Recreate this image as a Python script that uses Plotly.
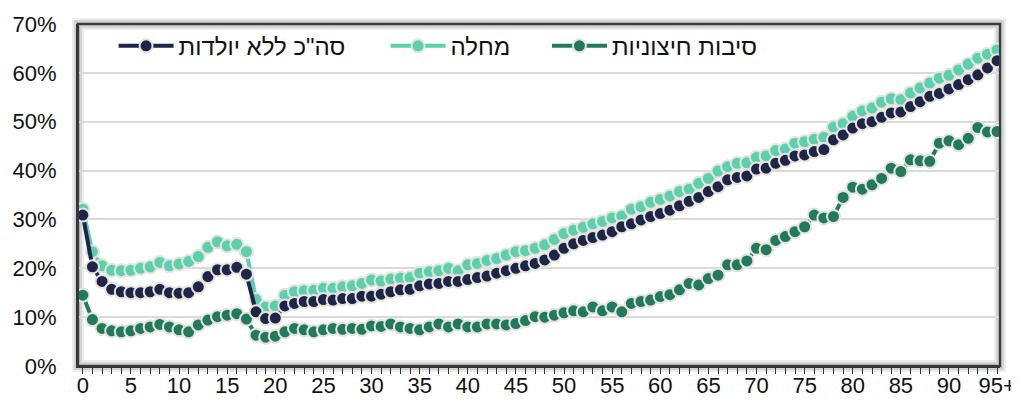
import plotly.graph_objects as go

ages = list(range(96))
tick_vals = list(range(0, 96, 5))
tick_text = [str(v) for v in range(0, 95, 5)] + ["95+"]

names = ['סה"כ ללא יולדות', "מחלה", "סיבות חיצוניות"]

total = [30.9, 20.3, 17.3, 15.7, 15.2, 15.0, 15.0, 15.2, 15.7, 15.0,
         14.9, 15.0, 16.2, 18.3, 19.7, 19.7, 20.2, 18.8, 11.1, 9.7,
         9.8, 12.3, 12.8, 13.2, 13.2, 13.6, 13.5, 13.8, 13.8, 14.3,
         14.3, 14.7, 15.2, 15.6, 15.7, 16.4, 16.8, 16.9, 17.3, 17.3,
         17.7, 18.1, 18.4, 19.0, 19.5, 20.0, 20.5, 21.0, 21.7, 22.7,
         24.1, 25.0, 25.7, 26.3, 26.8, 27.5, 28.5, 29.1, 29.9, 30.6,
         31.2, 31.9, 32.8, 33.7, 34.5, 35.7, 36.7, 38.1, 38.6, 38.9,
         40.3, 40.5, 41.5, 42.1, 43.0, 43.2, 43.9, 44.3, 46.3, 47.3,
         48.7, 49.6, 50.0, 50.9, 51.8, 52.0, 53.1, 54.1, 55.2, 55.8,
         56.7, 57.6, 58.6, 59.6, 61.0, 62.5]

illness = [32.1, 23.4, 20.5, 19.6, 19.5, 19.6, 20.0, 20.3, 21.2, 20.5,
           20.9, 21.4, 22.4, 24.3, 25.4, 24.6, 24.9, 23.4, 13.6, 12.1,
           12.3, 14.5, 15.2, 15.4, 15.5, 15.9, 15.9, 16.2, 16.4, 16.9,
           17.6, 17.4, 17.8, 18.0, 18.1, 19.0, 19.3, 19.5, 20.0, 19.5,
           20.7, 21.0, 21.6, 22.0, 22.7, 23.4, 23.6, 24.1, 24.8, 25.9,
           27.1, 27.8, 28.4, 29.1, 29.6, 30.3, 30.7, 32.1, 32.6, 33.5,
           34.1, 34.8, 35.7, 36.2, 37.4, 38.4, 39.9, 40.8, 41.5, 41.6,
           42.7, 43.0, 44.1, 44.4, 45.6, 45.9, 46.4, 46.8, 48.9, 49.6,
           51.1, 52.2, 52.8, 54.0, 54.7, 54.5, 55.9, 56.9, 57.9, 58.9,
           59.5, 60.6, 61.8, 63.0, 63.8, 64.7]

external = [14.5, 9.5, 7.7, 7.2, 7.0, 7.2, 7.7, 8.0, 8.5, 8.0,
            7.4, 7.0, 8.4, 9.4, 10.1, 10.4, 10.7, 9.6, 6.3, 5.9,
            6.1, 7.0, 7.7, 7.4, 7.0, 7.4, 7.7, 7.5, 7.7, 7.5,
            8.2, 8.1, 8.6, 8.0, 7.7, 7.4, 8.0, 8.6, 8.0, 8.6,
            8.0, 8.0, 8.6, 8.6, 8.4, 8.7, 9.3, 10.1, 10.0, 10.4,
            10.9, 11.3, 11.1, 12.1, 11.3, 12.1, 11.1, 12.8, 13.2, 13.5,
            14.2, 14.6, 15.6, 16.9, 16.6, 17.9, 18.6, 20.7, 20.7, 21.5,
            24.1, 23.8, 25.7, 26.5, 27.5, 28.5, 30.9, 30.3, 30.6, 34.5,
            36.6, 36.2, 37.1, 38.4, 40.5, 39.8, 42.2, 42.0, 41.9, 45.6,
            46.1, 45.3, 46.6, 48.8, 47.9, 48.0]

colors = ["#1f2449", "#5ccfae", "#217a5e"]
series = [total, illness, external]
legend_ids = ["legend", "legend2", "legend3"]
legend_x = [0.0386, 0.3336, 0.5086]

FONT = "Liberation Sans, Arial, sans-serif"

fig = go.Figure()
for i in [2, 1, 0]:
    fig.add_trace(go.Scatter(
        x=ages, y=series[i], name=names[i], mode="lines+markers",
        line=dict(color=colors[i], width=4),
        marker=dict(size=13, color=colors[i], line=dict(color="#e4e4da", width=2)),
        legend=legend_ids[i],
    ))

legend_common = dict(orientation="h", xanchor="left", yanchor="middle", y=0.935,
                     bgcolor="rgba(0,0,0,0)", itemwidth=55,
                     font=dict(family=FONT, size=24, color="#111111"))
layout_legends = {}
for lid, lx in zip(legend_ids, legend_x):
    layout_legends[lid] = dict(legend_common, x=lx)

# the page body adds an 8px margin, so the figure is offset to compensate
fig.update_layout(
    width=1019, height=397,
    margin=dict(l=70, r=27, t=16, b=39, autoexpand=False),
    paper_bgcolor="white", plot_bgcolor="white",
    font=dict(family=FONT, size=22, color="#111111"),
    showlegend=True,
    xaxis=dict(range=[-0.5, 95.3], tickmode="array", tickvals=tick_vals, ticktext=tick_text,
               showgrid=False, zeroline=False, showline=True, linecolor="#333333", linewidth=2,
               ticks="outside", ticklen=6, tickcolor="#333333", ticklabelstandoff=-7,
               automargin=False,
               minor=dict(dtick=1, tick0=0, ticks="outside", ticklen=6, tickcolor="#333333"),
               tickfont=dict(family=FONT, size=22)),
    yaxis=dict(range=[0, 70], dtick=10, ticksuffix="%", showgrid=True, gridcolor="#d9d9d9",
               gridwidth=2, zeroline=False, showline=True, linecolor="#333333", linewidth=2,
               ticks="", ticklabelstandoff=15, automargin=False,
               tickfont=dict(family=FONT, size=22)),
    **layout_legends,
)

# frame shadow and border
for k, a in enumerate([0.07, 0.11, 0.16]):
    w = 12 - 4 * k
    fig.add_shape(type="rect", xref="paper", yref="paper", x0=0, x1=1, y0=0, y1=1,
                  line=dict(color=f"rgba(0,0,0,{a})", width=w), layer="below")
fig.add_shape(type="rect", xref="paper", yref="paper", x0=0, x1=1, y0=0, y1=1,
              line=dict(color="#3a3a3a", width=2), layer="above")

fig.write_html("out.html")
